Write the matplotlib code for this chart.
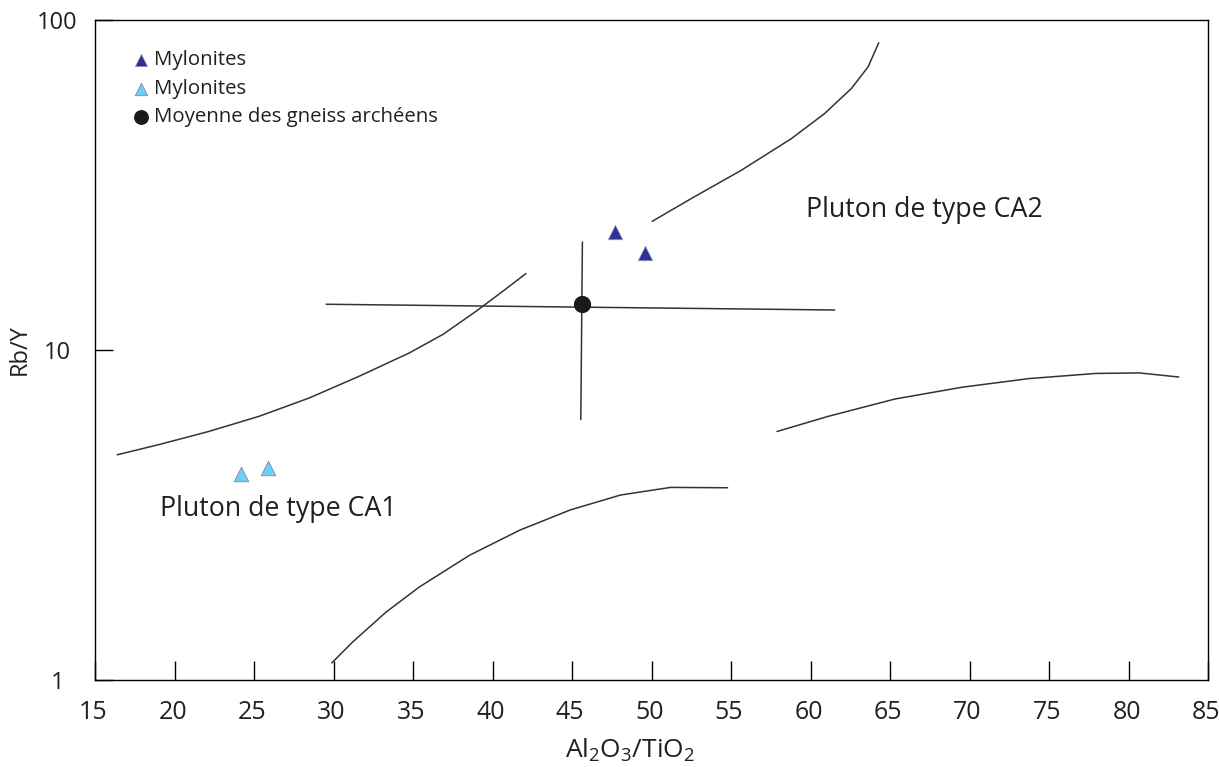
import numpy as np
import matplotlib
matplotlib.use("Agg")
import matplotlib.pyplot as plt
import matplotlib.transforms as mtransforms

plt.rcParams['font.family'] = ['Open Sans', 'DejaVu Sans']
plt.rcParams['mathtext.default'] = 'regular'

# points
myl_dark_x = [47.7, 49.6]
myl_dark_y = [22.8, 19.7]
myl_light_x = [24.2, 25.9]
myl_light_y = [4.23, 4.41]
gneiss_x = [45.6]
gneiss_y = [13.8]
# error bars of the gneiss mean (ends)
hbar_x = [29.55, 61.5]
hbar_y = [13.77, 13.23]
vbar_x = [45.65, 45.55]
vbar_y = [21.2, 6.17]

# boundary curves
c1_x = [16.39, 18.98, 22.14, 25.30, 28.46, 31.62, 34.77, 36.88, 38.99, 40.67, 42.10]
c1_y = [4.82, 5.17, 5.67, 6.30, 7.16, 8.34, 9.81, 11.16, 13.14, 15.11, 17.06]
c2_x = [50.04, 52.46, 55.62, 58.78, 60.88, 62.57, 63.62, 64.29]
c2_y = [24.55, 28.71, 35.0, 43.66, 52.05, 62.0, 72.1, 85.3]
c3_x = [57.89, 61.10, 65.30, 69.52, 73.73, 77.94, 80.68, 83.16]
c3_y = [5.67, 6.30, 7.11, 7.72, 8.20, 8.50, 8.53, 8.29]
c4_x = [29.89, 31.19, 33.30, 35.40, 38.56, 41.72, 44.88, 48.04, 51.20, 54.78]
c4_y = [1.129, 1.305, 1.609, 1.918, 2.393, 2.851, 3.28, 3.64, 3.84, 3.83]

y_ticks = [1, 10, 100]
y_ticklabels = ['1', '10', '100']

txt = '#231f20'
line = '#333333'

fig = plt.figure(figsize=(12.19, 7.67), dpi=100)
ax = fig.add_axes([0.078, 0.113, 0.913, 0.861])

for cx, cy in [(c1_x, c1_y), (c2_x, c2_y), (c3_x, c3_y), (c4_x, c4_y)]:
    ax.plot(cx, cy, color=line, lw=1.1, solid_capstyle='round', solid_joinstyle='round')

ax.plot(hbar_x, hbar_y, color=line, lw=1.1)
ax.plot(vbar_x, vbar_y, color=line, lw=1.1)

ax.scatter(myl_dark_x, myl_dark_y, marker='^', s=110, color='#2e3192',
           edgecolor='#9aa0c8', linewidth=0.5, zorder=3, label='Mylonites')
ax.scatter(myl_light_x, myl_light_y, marker='^', s=110, color='#6dcff6',
           edgecolor='#888888', linewidth=0.6, zorder=3, label='Mylonites')
ax.scatter(gneiss_x, gneiss_y, marker='o', s=130, color='#1a1a1a',
           zorder=3, label='Moyenne des gneiss archéens')

ax.text(59.7, 26.5, 'Pluton de type CA2', fontsize=19.3, va='center', color=txt)
ax.text(19.1, 3.31, 'Pluton de type CA1', fontsize=19.3, va='center', color=txt)

ax.set_yscale('log')
ax.set_xlim(15, 85)
ax.set_ylim(1, 100)
ax.set_xticks(np.arange(15, 86, 5))
ax.minorticks_off()
ax.tick_params(axis='x', direction='in', length=14, width=1, labelsize=18, pad=14,
               labelcolor=txt)
ax.tick_params(axis='y', direction='in', length=13, width=1, labelsize=17, pad=27,
               labelcolor=txt)
ax.set_yticks(y_ticks)
ax.set_yticklabels(y_ticklabels, ha='center', fontsize=17, color=txt)

# x tick labels sit a little left of their ticks in the original
shift = mtransforms.ScaledTranslation(-2 / 100, 0, fig.dpi_scale_trans)
for lab in ax.get_xticklabels():
    lab.set_transform(lab.get_transform() + shift)

fig.text(630 / 1219, 1 - 750 / 767, 'Al$_2$O$_3$/TiO$_2$', fontsize=19,
         ha='center', va='center', color=txt)
fig.text(20 / 1219, 1 - 350 / 767, 'Rb/Y', fontsize=17, rotation=90,
         ha='center', va='center', color=txt)

for s in ax.spines.values():
    s.set_linewidth(1.0)

ax.legend(loc='upper left', bbox_to_anchor=(0.032, 0.954), frameon=False,
          fontsize=14.7, handletextpad=0.15, labelspacing=0.42, markerscale=0.85,
          borderaxespad=0, borderpad=0, handlelength=1.0, labelcolor=txt)

plt.savefig('out.png', dpi=100)
